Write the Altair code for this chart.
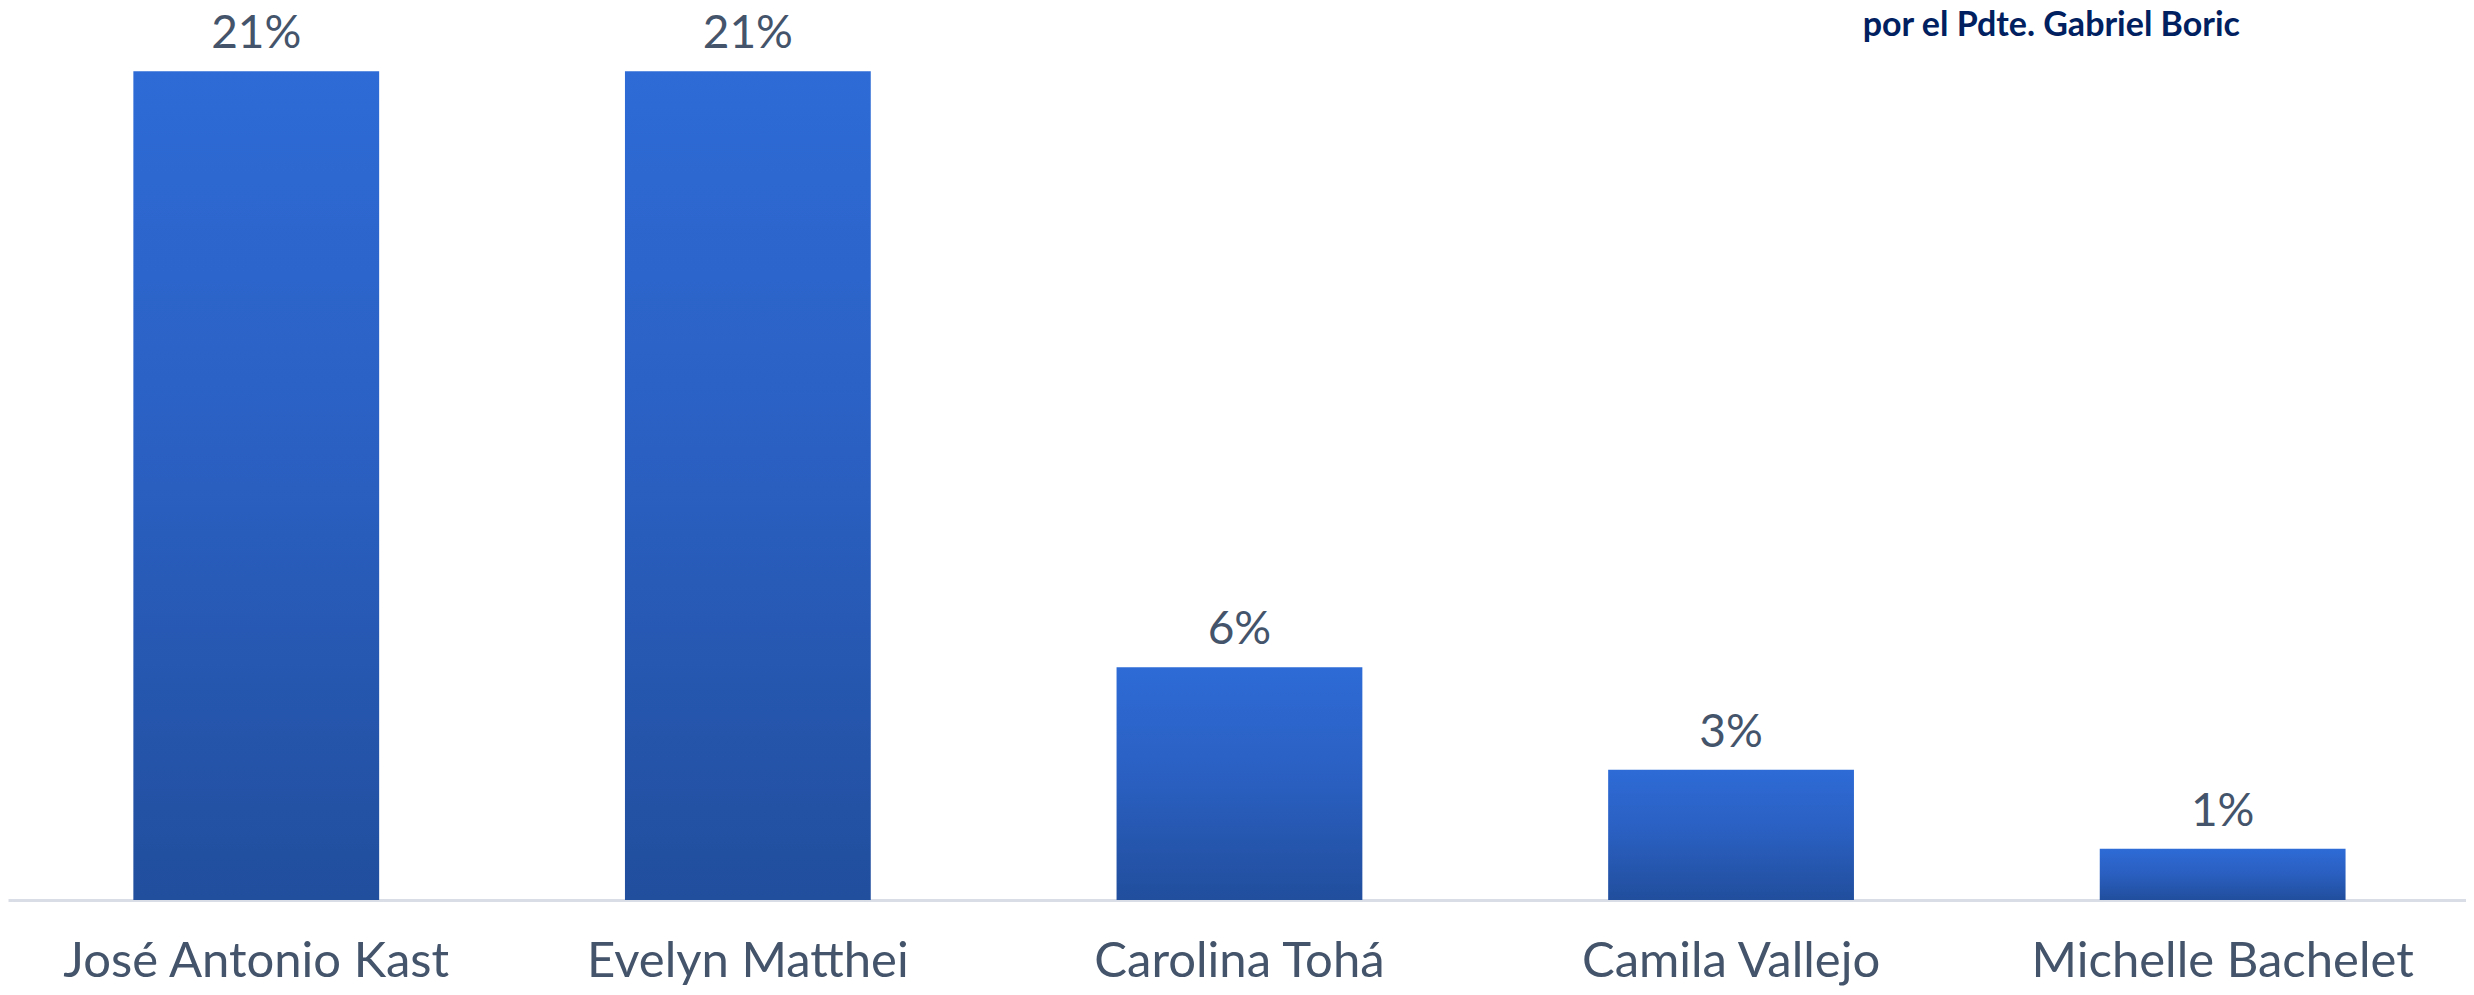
import altair as alt
import pandas as pd

categories = ["José Antonio Kast", "Evelyn Matthei", "Carolina Tohá", "Camila Vallejo", "Michelle Bachelet"]
values = [0.21, 0.21, 0.059, 0.033, 0.013]
labels = ["21%", "21%", "6%", "3%", "1%"]
subtitle = ["por el Pdte. Gabriel Boric"]

df = pd.DataFrame({"candidato": categories, "valor": values, "etiqueta": labels})
df_sub = pd.DataFrame({"texto": subtitle})

gradient = alt.Gradient(
    gradient="linear",
    stops=[alt.GradientStop(color="#2E6BD6", offset=0),
           alt.GradientStop(color="#2A5FC0", offset=0.5),
           alt.GradientStop(color="#214E9D", offset=1)],
    x1=1, x2=1, y1=0, y2=1,
)

x = alt.X(
    "candidato:N", sort=categories,
    scale=alt.Scale(paddingInner=0.5, paddingOuter=0.25, align=0.51),
    axis=alt.Axis(title=None, labelAngle=0, labelFontSize=49, labelColor="#44546A",
                  labelFont="Lato", labelPadding=76, labelBaseline="alphabetic",
                  ticks=False, domainColor="#D9DDE6", domainWidth=3, labelLimit=0),
)
y = alt.Y("valor:Q", scale=alt.Scale(domain=[0, 0.2108], nice=False, zero=True), axis=None)

bars = alt.Chart(df).mark_bar(color=gradient).encode(x=x, y=y)
text = alt.Chart(df).mark_text(
    baseline="alphabetic", dy=-23, fontSize=46, font="Lato", color="#44546A"
).encode(x=x, y=y, text="etiqueta:N")

sub = alt.Chart(df_sub).mark_text(
    align="right", baseline="alphabetic", fontSize=34, font="Lato",
    fontWeight="bold", color="#002060"
).encode(x=alt.value(2232), y=alt.value(-32), text="texto:N")

chart = alt.layer(bars, text, sub).properties(
    width=2458, height=832,
    padding={"left": 0, "top": 60, "right": 0, "bottom": 87},
    autosize=alt.AutoSizeParams(type="none"),
    background="white",
).configure_view(stroke=None)

chart.save("out.html", embed_options={"renderer": "svg", "actions": False})
